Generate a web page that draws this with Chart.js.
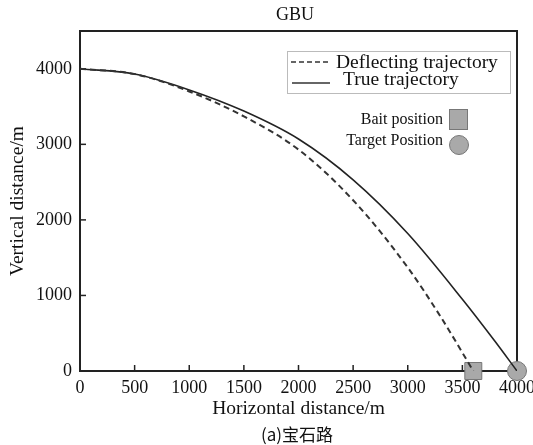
<!DOCTYPE html>
<html>
<head>
<meta charset="utf-8">
<script src="https://cdn.jsdelivr.net/npm/chart.js@4"></script>
<style>
  html, body { margin: 0; padding: 0; background: #fff; }
  #wrap { width: 533px; height: 445px; }
</style>
</head>
<body>
<div id="wrap"><canvas id="traj"></canvas></div>
<script>
var xTicks = [0, 500, 1000, 1500, 2000, 2500, 3000, 3500, 4000];
var yTicks = [0, 1000, 2000, 3000, 4000];

var trueX = [0, 500, 1000, 1500, 2000, 2500, 3000, 3500, 3800, 4000];
var trueY = [4000, 3930, 3720, 3440, 3070, 2530, 1820, 950, 390, 0];

var deflX = [0, 500, 1000, 1500, 2000, 2500, 3000, 3300, 3600];
var deflY = [4000, 3930, 3700, 3370, 2930, 2260, 1370, 720, 0];

var baitPos = [3600, 0];
var targetPos = [4000, 0];

var serif = '"Liberation Serif", "DejaVu Serif", serif';

function toPoints(xs, ys) {
    return xs.map(function(x, i) { return {x: x, y: ys[i]}; });
}

// frame, inward ticks, legend and captions
var extras = {
    id: 'extras',
    beforeDatasetsDraw: function(chart) {
        var ctx = chart.ctx, a = chart.chartArea;
        var xs = chart.scales.x, ys = chart.scales.y;
        ctx.save();
        ctx.strokeStyle = '#222';
        ctx.lineWidth = 1.5;
        xTicks.forEach(function(v) {
            var px = xs.getPixelForValue(v);
            ctx.beginPath(); ctx.moveTo(px, a.bottom); ctx.lineTo(px, a.bottom - 6); ctx.stroke();
        });
        yTicks.forEach(function(v) {
            var py = ys.getPixelForValue(v);
            ctx.beginPath(); ctx.moveTo(a.left, py); ctx.lineTo(a.left + 6, py); ctx.stroke();
        });
        ctx.lineWidth = 2;
        ctx.strokeRect(a.left, a.top, a.right - a.left, a.bottom - a.top);
        ctx.restore();
    },
    afterDraw: function(chart) {
        var ctx = chart.ctx;
        ctx.save();
        ctx.fillStyle = '#111';
        ctx.textBaseline = 'middle';
        ctx.textAlign = 'center';
        ctx.font = '18px ' + serif;
        ctx.fillText('GBU', 295, 15);
        ctx.font = '17px "Noto Sans CJK SC", ' + serif;
        ctx.fillText('(a)宝石路', 297, 435);

        // legend box
        ctx.strokeStyle = '#bbb';
        ctx.lineWidth = 1;
        ctx.strokeRect(287.5, 51.5, 223, 42);
        ctx.strokeStyle = '#333';
        ctx.lineWidth = 1.5;
        ctx.setLineDash([5, 3]);
        ctx.beginPath(); ctx.moveTo(291, 62); ctx.lineTo(330, 62); ctx.stroke();
        ctx.setLineDash([]);
        ctx.beginPath(); ctx.moveTo(292, 83); ctx.lineTo(330, 83); ctx.stroke();
        ctx.textAlign = 'left';
        ctx.font = '19.5px ' + serif;
        ctx.fillText('Deflecting trajectory', 336, 63);
        ctx.fillText('True trajectory', 343, 80);

        ctx.font = '16px ' + serif;
        ctx.textAlign = 'right';
        ctx.fillText('Bait position', 443, 120);
        ctx.fillText('Target Position', 443, 141);
        ctx.fillStyle = '#a9a9a9';
        ctx.strokeStyle = '#777';
        ctx.lineWidth = 1;
        ctx.fillRect(449, 109, 19, 21);
        ctx.strokeRect(449.5, 109.5, 18, 20);
        ctx.beginPath(); ctx.arc(459, 145, 9.5, 0, Math.PI * 2); ctx.fill(); ctx.stroke();
        ctx.restore();
    }
};

function plain(v) { return String(v); }

var ctx = document.getElementById('traj').getContext('2d');
var chart = new Chart(ctx, {
    type: 'scatter',
    data: {
        datasets: [{
            label: 'Deflecting trajectory',
            data: toPoints(deflX, deflY),
            showLine: true,
            borderColor: '#333',
            borderWidth: 2,
            borderDash: [6, 4],
            pointRadius: 0,
            cubicInterpolationMode: 'monotone'
        }, {
            label: 'True trajectory',
            data: toPoints(trueX, trueY),
            showLine: true,
            borderColor: '#222',
            borderWidth: 1.6,
            pointRadius: 0,
            cubicInterpolationMode: 'monotone'
        }, {
            label: 'Bait position',
            data: [{x: baitPos[0], y: baitPos[1]}],
            pointStyle: 'rect',
            pointRadius: 12,
            backgroundColor: '#a9a9a9',
            borderColor: '#777',
            borderWidth: 1,
            clip: false
        }, {
            label: 'Target Position',
            data: [{x: targetPos[0], y: targetPos[1]}],
            pointStyle: 'circle',
            pointRadius: 9.5,
            backgroundColor: '#a9a9a9',
            borderColor: '#777',
            borderWidth: 1,
            clip: false
        }]
    },
    options: {
        responsive: true,
        maintainAspectRatio: false,
        animation: false,
        layout: { autoPadding: false, padding: { top: 31, right: 11, left: 0, bottom: 24 } },
        plugins: {
            legend: { display: false },
            tooltip: { enabled: false }
        },
        scales: {
            x: {
                type: 'linear',
                min: 0,
                max: 4000,
                afterBuildTicks: function(s) { s.ticks = xTicks.map(function(v) { return {value: v}; }); },
                afterFit: function(s) { s.height = 50; },
                grid: { display: false },
                border: { display: false },
                ticks: { color: '#111', font: { family: serif, size: 18 }, padding: -2, maxRotation: 0, callback: plain },
                title: { display: true, text: 'Horizontal distance/m', color: '#111', font: { family: serif, size: 19.5 }, padding: { top: 0, bottom: 0 } }
            },
            y: {
                type: 'linear',
                min: 0,
                max: 4500,
                afterBuildTicks: function(s) { s.ticks = yTicks.map(function(v) { return {value: v}; }); },
                afterFit: function(s) { s.width = 80; },
                grid: { display: false },
                border: { display: false },
                ticks: { color: '#111', font: { family: serif, size: 18 }, padding: 0, callback: plain },
                title: { display: true, text: 'Vertical distance/m', color: '#111', font: { family: serif, size: 19.5 }, padding: { top: 6, bottom: 4 } }
            }
        }
    },
    plugins: [extras]
});
</script>
</body>
</html>
